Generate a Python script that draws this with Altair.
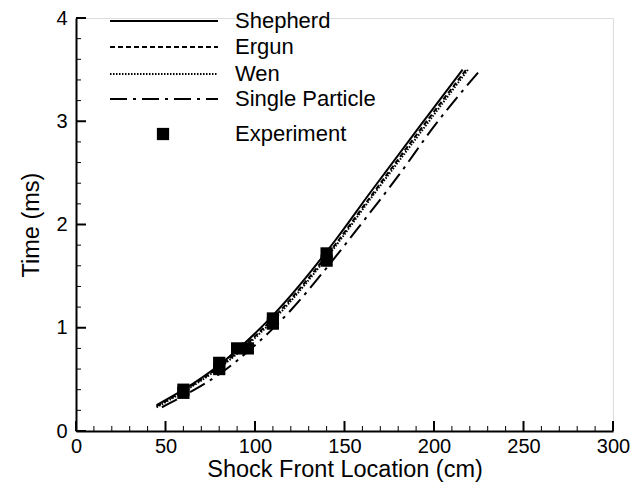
import altair as alt
import pandas as pd

# ---- data ----
shepherd_x = [45, 60, 80, 110, 145, 164, 192, 216]
shepherd_t = [0.25, 0.40, 0.64, 1.12, 1.85, 2.30, 2.95, 3.50]

ergun_x = [45, 60, 80, 110, 145, 165, 192, 218]
ergun_t = [0.24, 0.39, 0.62, 1.09, 1.81, 2.28, 2.91, 3.50]

wen_x = [45, 60, 80, 110, 145, 165, 192, 219]
wen_t = [0.23, 0.38, 0.61, 1.07, 1.79, 2.26, 2.88, 3.50]

single_x = [48, 60, 80, 100, 120, 140, 160, 180, 200, 226]
single_t = [0.23, 0.34, 0.55, 0.83, 1.17, 1.58, 2.02, 2.47, 2.95, 3.50]

exp_x = [60, 60, 80, 80, 90, 96, 110, 110, 140, 140]
exp_t = [0.37, 0.40, 0.60, 0.66, 0.80, 0.80, 1.04, 1.09, 1.65, 1.72]

series_names = ["Shepherd", "Ergun", "Wen", "Single Particle", "Experiment"]

x_major = [0, 50, 100, 150, 200, 250, 300]
x_minor = [v for v in range(0, 301, 10) if v % 50 != 0]
y_major = [0, 1, 2, 3, 4]
y_minor = [0.2, 0.4, 0.6, 0.8, 1.2, 1.4, 1.6, 1.8, 2.2, 2.4, 2.6, 2.8, 3.2, 3.4, 3.6, 3.8]

W, H = 537, 413
FONT = "Liberation Sans"

xs = alt.Scale(domain=[0, 300], nice=False)
ys = alt.Scale(domain=[0, 4], nice=False)

x_axis = alt.Axis(values=x_major, tickSize=0, grid=False, domainWidth=2, domainColor="black",
                  labelFontSize=20, labelFont=FONT, labelColor="black", labelPadding=5,
                  labelFlush=False, title="Shock Front Location (cm)", titleFont=FONT,
                  titleFontSize=23.5, titleFontWeight="normal", titleColor="black", titlePadding=1)
y_axis = alt.Axis(values=y_major, tickSize=0, grid=False, domainWidth=2, domainColor="black",
                  labelFontSize=20, labelFont=FONT, labelColor="black", labelPadding=9,
                  labelFlush=False, title="Time (ms)", titleFont=FONT, titleFontSize=23.5,
                  titleFontWeight="normal", titleColor="black", titlePadding=12)


def X(field):
    return alt.X(field, scale=xs, axis=x_axis, title="Shock Front Location (cm)")


def Y(field):
    return alt.Y(field, scale=ys, axis=y_axis, title="Time (ms)")


def line_layer(xv, tv, dash):
    df = pd.DataFrame({"x": xv, "t": tv})
    kw = dict(color="black", strokeWidth=2, interpolate="monotone", clip=True)
    if dash:
        kw["strokeDash"] = dash
    return alt.Chart(df).mark_line(**kw).encode(x=X("x:Q"), y=Y("t:Q"), order="x:Q")


shep = line_layer(shepherd_x, shepherd_t, None)
erg = line_layer(ergun_x, ergun_t, [5, 3])
wen = line_layer(wen_x, wen_t, [1.5, 1.5])
sing = line_layer(single_x, single_t, [17, 6, 3, 6])

exp_df = pd.DataFrame({"x": exp_x, "t": exp_t})
exp = alt.Chart(exp_df).mark_point(shape="square", filled=True, color="black",
                                   size=150, opacity=1).encode(x=X("x:Q"), y=Y("t:Q"))

# inward tick marks
xmaj = alt.Chart(pd.DataFrame({"x": x_major})).mark_rule(color="black", strokeWidth=2).encode(
    x=X("x:Q"), y=alt.value(H), y2=alt.value(H - 10))
xmin = alt.Chart(pd.DataFrame({"x": x_minor})).mark_rule(color="black", strokeWidth=1).encode(
    x=X("x:Q"), y=alt.value(H), y2=alt.value(H - 5))
ymaj = alt.Chart(pd.DataFrame({"t": y_major})).mark_rule(color="black", strokeWidth=2).encode(
    y=Y("t:Q"), x=alt.value(0), x2=alt.value(10))
ymin = alt.Chart(pd.DataFrame({"t": y_minor})).mark_rule(color="black", strokeWidth=1).encode(
    y=Y("t:Q"), x=alt.value(0), x2=alt.value(5))

# manual legend
rows = [3, 29, 56, 81, 116]
dashes = [None, [5, 3], [1.5, 1.5], [17, 6, 3, 6]]
legend_layers = []
for i, name in enumerate(series_names):
    ry = rows[i]
    if i < 4:
        kw = dict(color="black", strokeWidth=2)
        if dashes[i]:
            kw["strokeDash"] = dashes[i]
        legend_layers.append(alt.Chart(pd.DataFrame({"n": [name]})).mark_rule(**kw).encode(
            x=alt.value(34), x2=alt.value(142), y=alt.value(ry)))
    else:
        legend_layers.append(alt.Chart(pd.DataFrame({"n": [name]})).mark_point(
            shape="square", filled=True, color="black", size=150, opacity=1).encode(
            x=alt.value(87), y=alt.value(ry)))
    legend_layers.append(alt.Chart(pd.DataFrame({"n": [name]})).mark_text(
        align="left", baseline="middle", font=FONT, fontSize=22, color="black").encode(
        x=alt.value(159), y=alt.value(ry), text="n:N"))

chart = alt.layer(shep, erg, wen, sing, exp, xmaj, xmin, ymaj, ymin, *legend_layers).properties(
    width=W, height=H,
    autosize=alt.AutoSizeParams(type="none"),
    padding={"left": 76, "top": 18, "right": 23, "bottom": 52},
).configure_view(stroke=None).configure(background="white")

chart.save("out.html", embed_options={"renderer": "svg", "actions": False})
